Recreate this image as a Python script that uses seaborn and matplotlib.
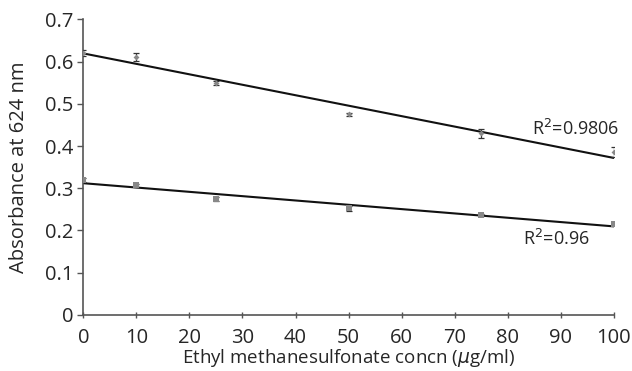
import numpy as np
import pandas as pd
import matplotlib
matplotlib.use("Agg")
import matplotlib.pyplot as plt
import seaborn as sns

conc = [0, 10, 25, 50, 75, 100]
upper_abs = [0.621, 0.611, 0.550, 0.475, 0.430, 0.385]
upper_err = [0.007, 0.010, 0.005, 0.003, 0.010, 0.012]
lower_abs = [0.320, 0.307, 0.274, 0.253, 0.237, 0.215]
lower_err = [0.005, 0.003, 0.005, 0.006, 0.002, 0.002]
r2_labels = ["R$^2$=0.9806", "R$^2$=0.96"]
x_ticks = [0, 10, 20, 30, 40, 50, 60, 70, 80, 90, 100]
y_ticks = [0, 0.1, 0.2, 0.3, 0.4, 0.5, 0.6, 0.7]

sns.set_theme(style="white")
plt.rcParams['font.family'] = ['Open Sans', 'DejaVu Sans']

fig = plt.figure(figsize=(6.32, 3.71), dpi=100)
ax = fig.add_axes([0.132, 0.151, 0.839, 0.797])

df_u = pd.DataFrame({"x": conc, "y": upper_abs, "e": upper_err})
df_l = pd.DataFrame({"x": conc, "y": lower_abs, "e": lower_err})

for df, mk, ms in [(df_u, "D", 3), (df_l, "s", 4.5)]:
    ax.errorbar(df["x"], df["y"], yerr=df["e"], fmt="none", ecolor="#333333",
                elinewidth=0.9, capsize=2.5, capthick=0.9, zorder=3)
    sns.scatterplot(data=df, x="x", y="y", marker=mk, s=ms**2, color="#888888",
                    edgecolor="#888888", linewidth=0, ax=ax, zorder=4)
    sns.regplot(data=df, x="x", y="y", scatter=False, ci=None, truncate=True,
                line_kws={"color": "#111111", "linewidth": 1.5}, ax=ax)

ax.text(101, 0.44, r2_labels[0], ha="right", va="center", fontsize=13, clip_on=False)
ax.text(95.5, 0.18, r2_labels[1], ha="right", va="center", fontsize=13)

ax.set_xlim(0, 100)
ax.set_ylim(0, 0.7)
ax.set_xticks(x_ticks)
ax.set_yticks(y_ticks)
ax.set_yticklabels(["0", "0.1", "0.2", "0.3", "0.4", "0.5", "0.6", "0.7"])
ax.set_xlabel("Ethyl methanesulfonate concn ($\\mu$g/ml)", fontsize=13.5, labelpad=-1)
ax.set_ylabel("Absorbance at 624 nm", fontsize=14.5, labelpad=12)
ax.tick_params(axis="x", direction="inout", length=5, width=1, labelsize=14.5, pad=7, color="#555555")
ax.tick_params(axis="y", direction="out", length=4, width=1, labelsize=14.5, pad=3, color="#555555", left=True)
ax.tick_params(axis="x", bottom=True)
for s in ["top", "right"]:
    ax.spines[s].set_visible(False)
for s in ["left", "bottom"]:
    ax.spines[s].set_color("#555555")
    ax.spines[s].set_linewidth(1.2)
ax.set_facecolor("white")
fig.savefig("out.png", dpi=100, facecolor="white")
